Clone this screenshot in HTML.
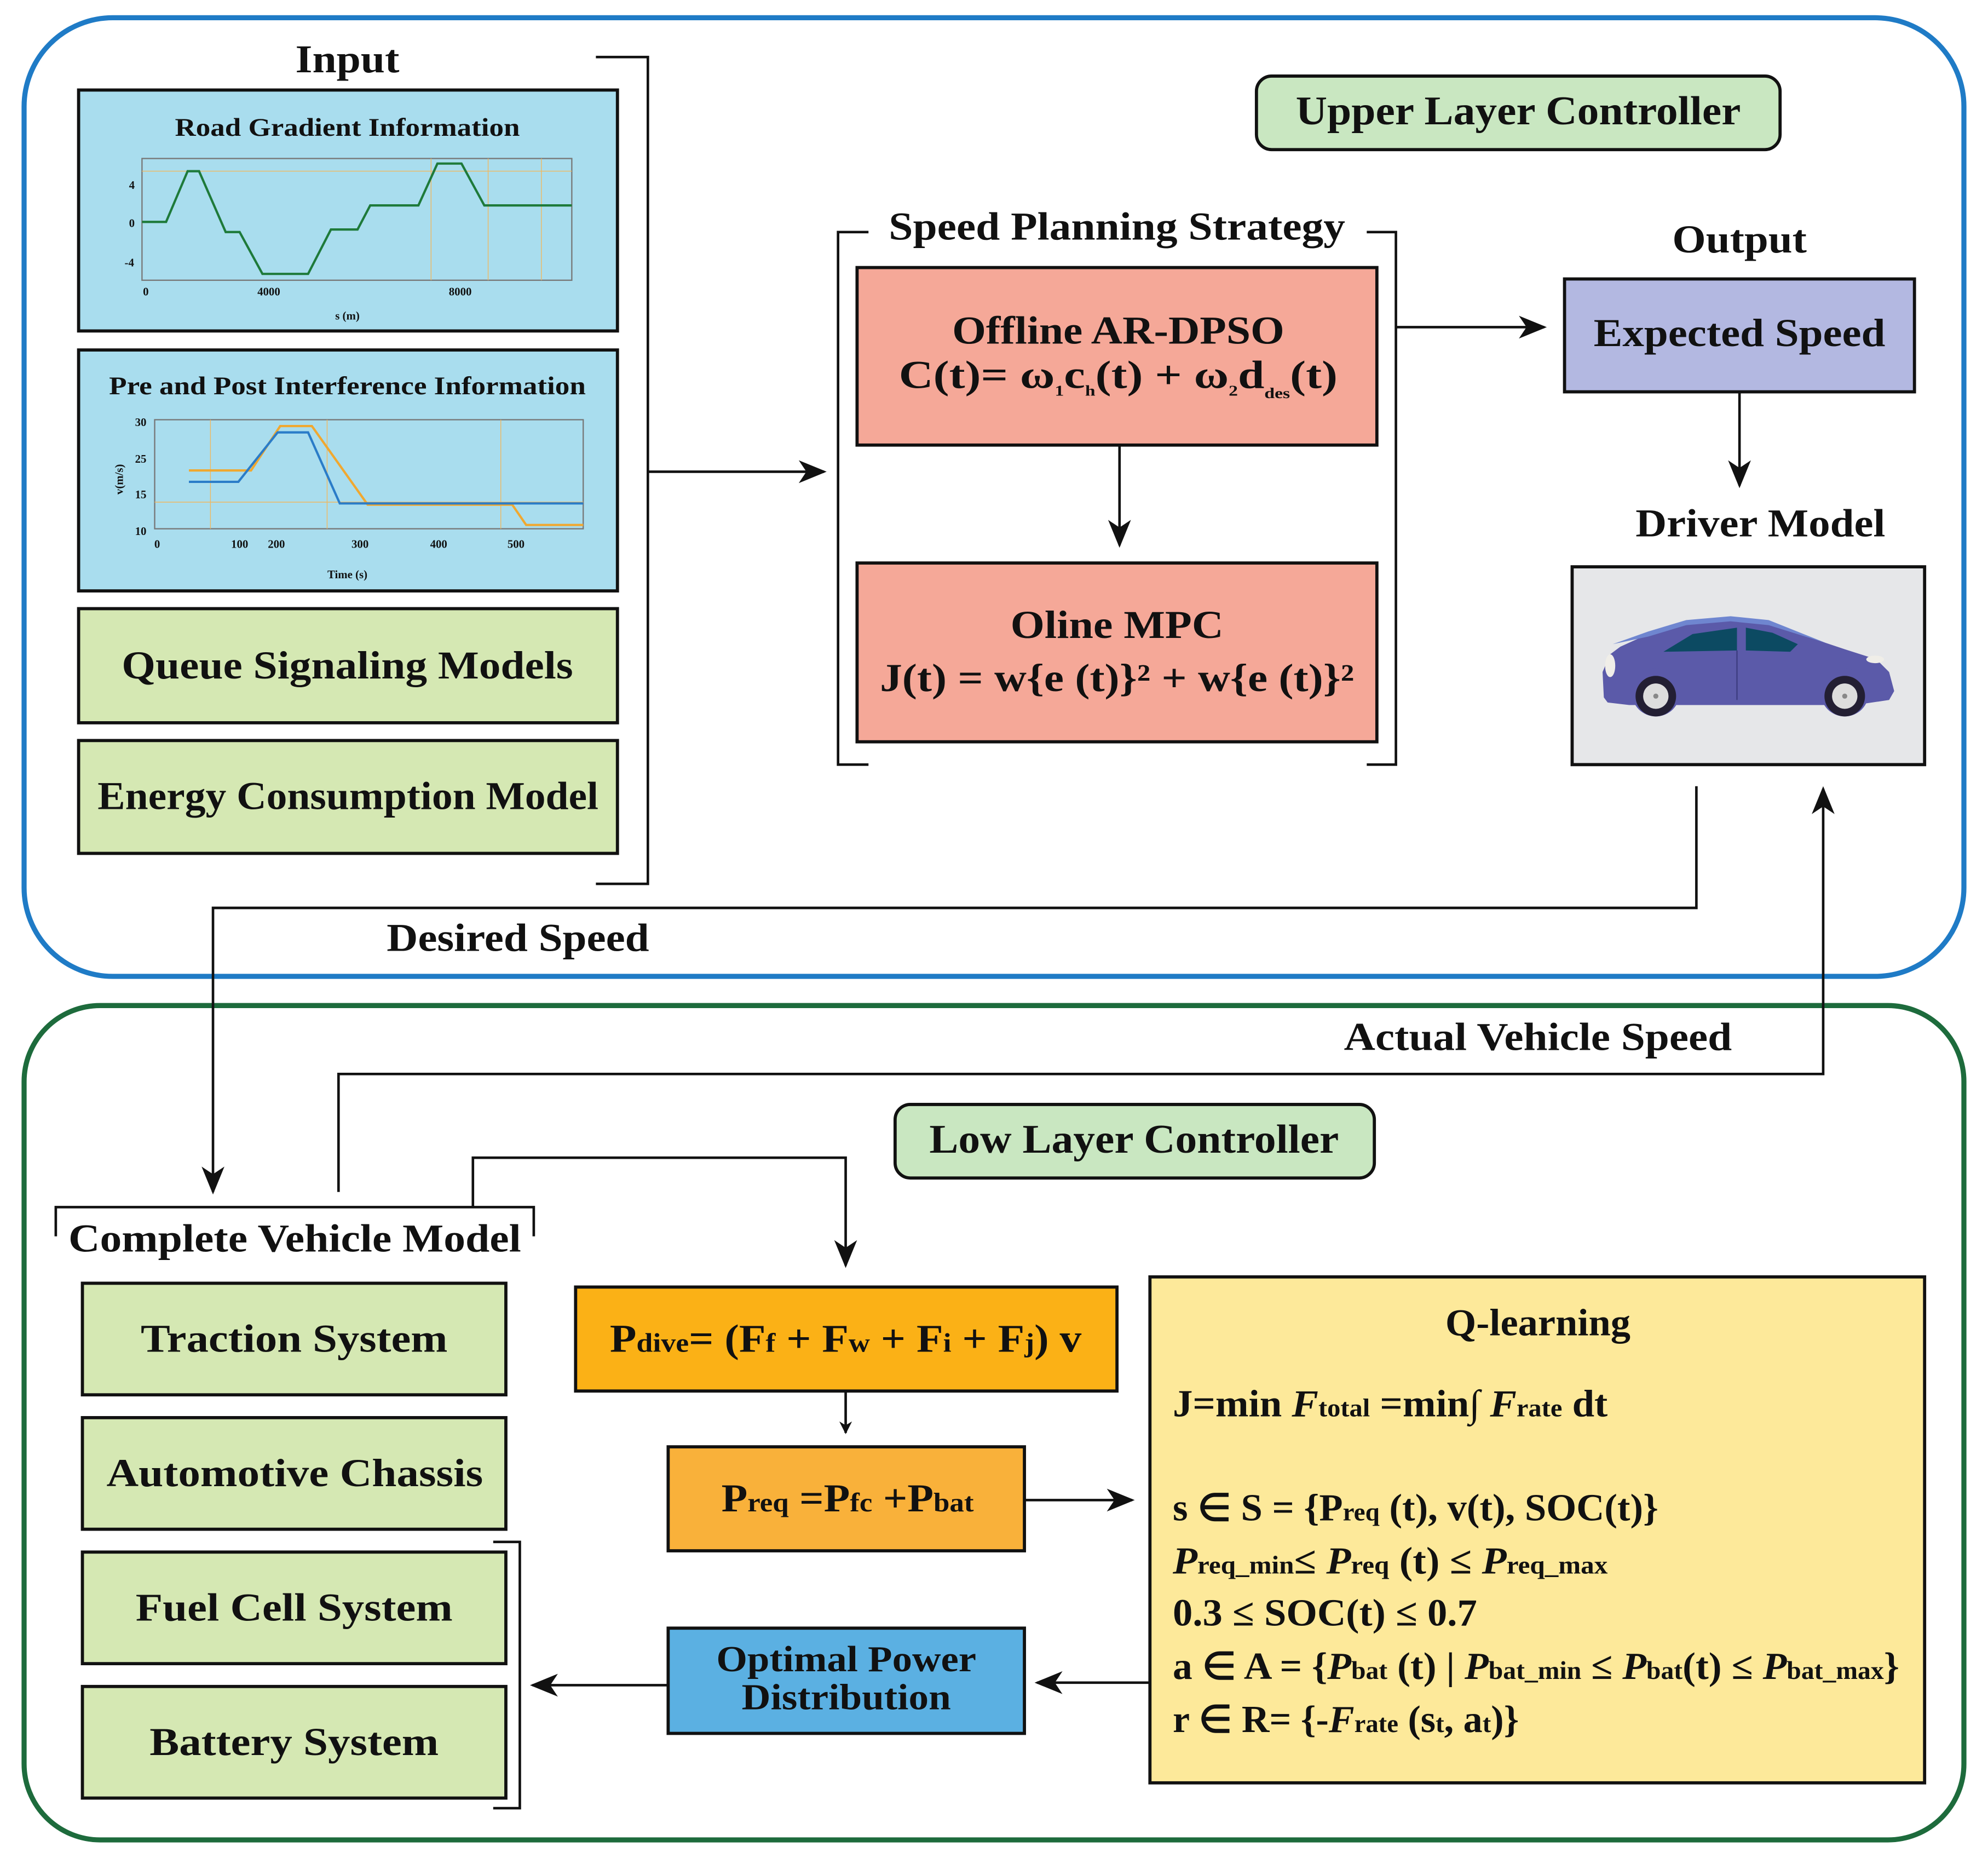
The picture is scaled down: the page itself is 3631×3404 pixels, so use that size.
<!DOCTYPE html>
<html><head><meta charset="utf-8"><style>
html,body{margin:0;padding:0;background:#fff;}
svg{display:block;}
text{font-family:"Liberation Serif",serif;font-weight:bold;fill:#111;}
</style></head><body>
<svg width="3631" height="3404" viewBox="0 0 1568 1470" preserveAspectRatio="none" xmlns="http://www.w3.org/2000/svg">
<defs>
<marker id="ar" markerWidth="10" markerHeight="10" refX="9" refY="5" orient="auto" markerUnits="userSpaceOnUse" viewBox="0 0 10 10">
<path d="M0,0 L10,5 L0,10 L3,5 z" fill="#111"/></marker>
<marker id="arb" markerWidth="22" markerHeight="22" refX="20" refY="11" orient="auto" markerUnits="userSpaceOnUse" viewBox="0 0 22 22">
<path d="M0,2 L22,11 L0,20 L6,11 z" fill="#111"/></marker>
</defs>
<rect x="0" y="0" width="1568" height="1470" fill="#fff"/>
<rect x="19" y="14" width="1530" height="756" rx="70" fill="none" stroke="#1f7bc6" stroke-width="4"/>
<rect x="19" y="793" width="1530" height="658" rx="60" fill="none" stroke="#1d6b3c" stroke-width="4"/>

<!-- Input -->
<text x="233" y="57" font-size="31" textLength="82" lengthAdjust="spacingAndGlyphs">Input</text>
<polyline points="470,45 511,45 511,697 470,697" fill="none" stroke="#111" stroke-width="2"/>
<rect x="62" y="71" width="425" height="190" fill="#a9ddee" stroke="#111" stroke-width="2.5"/>
<text x="138" y="107" font-size="20" textLength="272" lengthAdjust="spacingAndGlyphs">Road Gradient Information</text>
<rect x="112" y="125" width="339" height="96" fill="none" stroke="#777" stroke-width="1"/>
<g stroke="#f0b860" stroke-width="0.6"><line x1="112" y1="135" x2="451" y2="135"/><line x1="340" y1="125" x2="340" y2="221"/><line x1="385" y1="125" x2="385" y2="221"/><line x1="427" y1="125" x2="427" y2="221"/></g>
<polyline points="112,175 131,175 148,135 157,135 178,183 189,183 207,216 243,216 261,181 282,181 292,162 330,162 345,129 364,129 382,162 451,162" fill="none" stroke="#1e7a3a" stroke-width="1.8"/>
<g font-size="9" text-anchor="middle"><text x="104" y="149">4</text><text x="104" y="179">0</text><text x="102" y="210">-4</text><text x="115" y="233">0</text><text x="212" y="233">4000</text><text x="363" y="233">8000</text><text x="274" y="252">s (m)</text></g>

<rect x="62" y="276" width="425" height="190" fill="#a9ddee" stroke="#111" stroke-width="2.5"/>
<text x="86" y="311" font-size="20" textLength="376" lengthAdjust="spacingAndGlyphs">Pre and Post Interference Information</text>
<rect x="122" y="331" width="338" height="86" fill="none" stroke="#777" stroke-width="1"/>
<g stroke="#f0b860" stroke-width="0.6"><line x1="166" y1="331" x2="166" y2="417"/><line x1="258" y1="331" x2="258" y2="417"/><line x1="395" y1="331" x2="395" y2="417"/><line x1="122" y1="396" x2="460" y2="396"/></g>
<polyline points="149,371 198,371 221,336 246,336 290,398 404,398 415,414 460,414" fill="none" stroke="#f0a830" stroke-width="1.8"/>
<polyline points="149,380 188,380 219,341 243,341 268,397 460,397" fill="none" stroke="#2a7cc8" stroke-width="1.8"/>
<g font-size="9" text-anchor="middle"><text x="111" y="336">30</text><text x="111" y="365">25</text><text x="111" y="393">15</text><text x="111" y="422">10</text><text x="124" y="432">0</text><text x="189" y="432">100</text><text x="218" y="432">200</text><text x="284" y="432">300</text><text x="346" y="432">400</text><text x="407" y="432">500</text><text x="274" y="456">Time (s)</text><text x="97" y="378" transform="rotate(-90 97 378)">v(m/s)</text></g>

<rect x="62" y="480" width="425" height="90" fill="#d5e8b3" stroke="#111" stroke-width="2.5"/>
<text x="96" y="535" font-size="31" textLength="356" lengthAdjust="spacingAndGlyphs">Queue Signaling Models</text>
<rect x="62" y="584" width="425" height="89" fill="#d5e8b3" stroke="#111" stroke-width="2.5"/>
<text x="77" y="638" font-size="31" textLength="395" lengthAdjust="spacingAndGlyphs">Energy Consumption Model</text>

<line x1="511" y1="372" x2="650" y2="372" stroke="#111" stroke-width="2" marker-end="url(#arb)"/>

<!-- Speed Planning -->
<polyline points="685,183 661,183 661,603 685,603" fill="none" stroke="#111" stroke-width="2"/>
<polyline points="1078,183 1101,183 1101,603 1078,603" fill="none" stroke="#111" stroke-width="2"/>
<text x="701" y="189" font-size="31" textLength="360" lengthAdjust="spacingAndGlyphs">Speed Planning Strategy</text>
<rect x="676" y="211" width="410" height="140" fill="#f5a898" stroke="#111" stroke-width="2.5"/>
<text x="751" y="271" font-size="31" textLength="262" lengthAdjust="spacingAndGlyphs">Offline AR-DPSO</text>
<text x="709" y="306" font-size="31" textLength="346" lengthAdjust="spacingAndGlyphs">C(t)=  ω<tspan font-size="12" dy="6">1</tspan><tspan dy="-6">c</tspan><tspan font-size="12" dy="6">h</tspan><tspan dy="-6">(t) + ω</tspan><tspan font-size="12" dy="6">2</tspan><tspan dy="-6">d</tspan><tspan font-size="12" dy="8">des</tspan><tspan dy="-8">(t)</tspan></text>
<line x1="883" y1="351" x2="883" y2="430" stroke="#111" stroke-width="2" marker-end="url(#arb)"/>
<rect x="676" y="444" width="410" height="141" fill="#f5a898" stroke="#111" stroke-width="2.5"/>
<text x="797" y="503" font-size="31" textLength="168" lengthAdjust="spacingAndGlyphs">Oline MPC</text>
<text x="694" y="545" font-size="31" textLength="374" lengthAdjust="spacingAndGlyphs">J(t) = w{e (t)}² + w{e (t)}²</text>

<line x1="1101" y1="258" x2="1218" y2="258" stroke="#111" stroke-width="2" marker-end="url(#arb)"/>

<rect x="991" y="60" width="413" height="58" rx="12" fill="#c9e7c1" stroke="#111" stroke-width="2.5"/>
<text x="1022" y="98" font-size="32" textLength="351" lengthAdjust="spacingAndGlyphs">Upper Layer Controller</text>

<text x="1319" y="199" font-size="31" textLength="106" lengthAdjust="spacingAndGlyphs">Output</text>
<rect x="1234" y="220" width="276" height="89" fill="#b3b8e1" stroke="#111" stroke-width="2.5"/>
<text x="1257" y="273" font-size="31" textLength="230" lengthAdjust="spacingAndGlyphs">Expected Speed</text>
<line x1="1372" y1="309" x2="1372" y2="383" stroke="#111" stroke-width="2" marker-end="url(#arb)"/>
<text x="1290" y="423" font-size="31" textLength="197" lengthAdjust="spacingAndGlyphs">Driver Model</text>
<rect x="1240" y="447" width="278" height="156" fill="#e6e7e9" stroke="#111" stroke-width="2.5"/>
<!-- car -->
<g>
<path d="M1265,550 L1264,530 L1270,516 L1278,510 L1300,500 L1330,490 L1365,487 L1395,490 L1425,502 L1455,512 L1480,520 L1490,530 L1494,545 L1490,552 L1470,555 L1440,556 L1320,556 L1285,556 L1268,554 Z" fill="#5b5aa9"/>
<path d="M1272,508 L1300,498 L1330,489 L1365,486 L1395,489 L1425,501 L1440,507 L1395,493 L1365,490 L1330,493 L1300,502 Z" fill="#6f86d0"/>
<path d="M1312,514 L1335,500 L1370,495 L1370,513 Z" fill="#0c4a62"/>
<path d="M1377,495 L1398,499 L1418,508 L1412,514 L1377,513 Z" fill="#0c4a62"/>
<line x1="1370" y1="513" x2="1370" y2="552" stroke="#3d3d80" stroke-width="1"/>
<ellipse cx="1270" cy="525" rx="4" ry="9" fill="#f0eee8"/>
<ellipse cx="1479" cy="520" rx="7" ry="3" fill="#f0eee8"/>
<circle cx="1306" cy="546" r="19" fill="#5b5aa9"/>
<circle cx="1455" cy="546" r="19" fill="#5b5aa9"/>
<circle cx="1306" cy="549" r="16" fill="#231f33"/><circle cx="1306" cy="549" r="10" fill="#ddd"/><circle cx="1306" cy="549" r="2" fill="#888"/>
<circle cx="1455" cy="549" r="16" fill="#231f33"/><circle cx="1455" cy="549" r="10" fill="#ddd"/><circle cx="1455" cy="549" r="2" fill="#888"/>
</g>

<polyline points="1338,620 1338,716 168,716 168,940" fill="none" stroke="#111" stroke-width="2" marker-end="url(#arb)"/>
<text x="305" y="750" font-size="31" textLength="207" lengthAdjust="spacingAndGlyphs">Desired Speed</text>
<polyline points="267,940 267,847 1438,847 1438,622" fill="none" stroke="#111" stroke-width="2" marker-end="url(#arb)"/>
<text x="1060" y="828" font-size="31" textLength="306" lengthAdjust="spacingAndGlyphs">Actual Vehicle Speed</text>

<rect x="706" y="871" width="378" height="58" rx="12" fill="#c9e7c1" stroke="#111" stroke-width="2.5"/>
<text x="733" y="909" font-size="32" textLength="323" lengthAdjust="spacingAndGlyphs">Low Layer Controller</text>

<polyline points="44,975 44,952 421,952 421,975" fill="none" stroke="#111" stroke-width="2"/>
<text x="54" y="987" font-size="31" textLength="357" lengthAdjust="spacingAndGlyphs">Complete Vehicle Model</text>
<polyline points="373,952 373,913 667,913 667,998" fill="none" stroke="#111" stroke-width="2" marker-end="url(#arb)"/>

<g font-size="31">
<rect x="65" y="1012" width="334" height="88" fill="#d5e8b3" stroke="#111" stroke-width="2.5"/><text x="111" y="1066" textLength="242" lengthAdjust="spacingAndGlyphs">Traction System</text>
<rect x="65" y="1118" width="334" height="88" fill="#d5e8b3" stroke="#111" stroke-width="2.5"/><text x="84" y="1172" textLength="297" lengthAdjust="spacingAndGlyphs">Automotive Chassis</text>
<rect x="65" y="1224" width="334" height="88" fill="#d5e8b3" stroke="#111" stroke-width="2.5"/><text x="107" y="1278" textLength="250" lengthAdjust="spacingAndGlyphs">Fuel Cell System</text>
<rect x="65" y="1330" width="334" height="88" fill="#d5e8b3" stroke="#111" stroke-width="2.5"/><text x="118" y="1384" textLength="228" lengthAdjust="spacingAndGlyphs">Battery System</text>
</g>
<polyline points="389,1216 410,1216 410,1426 389,1426" fill="none" stroke="#111" stroke-width="2"/>

<rect x="454" y="1015" width="427" height="82" fill="#fbb116" stroke="#111" stroke-width="2.5"/>
<text x="481" y="1066" font-size="31" textLength="372" lengthAdjust="spacingAndGlyphs">P<tspan font-size="21">dive</tspan>= (F<tspan font-size="21">f</tspan> + F<tspan font-size="21">w</tspan> + F<tspan font-size="21">i</tspan> + F<tspan font-size="21">j</tspan>) v</text>
<line x1="667" y1="1097" x2="667" y2="1130" stroke="#111" stroke-width="2" marker-end="url(#ar)"/>
<rect x="527" y="1141" width="281" height="82" fill="#f9b13a" stroke="#111" stroke-width="2.5"/>
<text x="569" y="1192" font-size="31" textLength="199" lengthAdjust="spacingAndGlyphs">P<tspan font-size="21">req</tspan> =P<tspan font-size="21">fc</tspan> +P<tspan font-size="21">bat</tspan></text>
<line x1="808" y1="1183" x2="893" y2="1183" stroke="#111" stroke-width="2" marker-end="url(#arb)"/>

<rect x="527" y="1284" width="281" height="83" fill="#5bb0e2" stroke="#111" stroke-width="2.5"/>
<text x="565" y="1318" font-size="29" textLength="205" lengthAdjust="spacingAndGlyphs">Optimal Power</text>
<text x="585" y="1348" font-size="29" textLength="165" lengthAdjust="spacingAndGlyphs">Distribution</text>
<line x1="907" y1="1327" x2="818" y2="1327" stroke="#111" stroke-width="2" marker-end="url(#arb)"/>
<line x1="527" y1="1329" x2="420" y2="1329" stroke="#111" stroke-width="2" marker-end="url(#arb)"/>

<rect x="907" y="1007" width="611" height="399" fill="#fde99a" stroke="#111" stroke-width="2.5"/>
<g font-size="30">
<text x="1140" y="1053" textLength="146" lengthAdjust="spacingAndGlyphs">Q-learning</text>
<text x="925" y="1117" textLength="343" lengthAdjust="spacingAndGlyphs">J=min <tspan font-style="italic">F</tspan><tspan font-size="20">total</tspan> =min∫ <tspan font-style="italic">F</tspan><tspan font-size="20">rate</tspan> dt</text>
<text x="925" y="1199" textLength="383" lengthAdjust="spacingAndGlyphs">s ∈ S = {P<tspan font-size="20">req</tspan> (t), v(t), SOC(t)}</text>
<text x="925" y="1241" textLength="343" lengthAdjust="spacingAndGlyphs"><tspan font-style="italic">P</tspan><tspan font-size="20">req_min</tspan>≤ <tspan font-style="italic">P</tspan><tspan font-size="20">req</tspan> (t) ≤ <tspan font-style="italic">P</tspan><tspan font-size="20">req_max</tspan></text>
<text x="925" y="1282" textLength="240" lengthAdjust="spacingAndGlyphs">0.3 ≤ SOC(t) ≤ 0.7</text>
<text x="925" y="1324" textLength="573" lengthAdjust="spacingAndGlyphs">a ∈ A = {<tspan font-style="italic">P</tspan><tspan font-size="20">bat</tspan> (t) | <tspan font-style="italic">P</tspan><tspan font-size="20">bat_min</tspan> ≤ <tspan font-style="italic">P</tspan><tspan font-size="20">bat</tspan>(t) ≤ <tspan font-style="italic">P</tspan><tspan font-size="20">bat_max</tspan>}</text>
<text x="925" y="1366" textLength="273" lengthAdjust="spacingAndGlyphs">r ∈ R= {-<tspan font-style="italic">F</tspan><tspan font-size="20">rate</tspan> (s<tspan font-size="20">t</tspan>, a<tspan font-size="20">t</tspan>)}</text>
</g>
</svg>
</body></html>
